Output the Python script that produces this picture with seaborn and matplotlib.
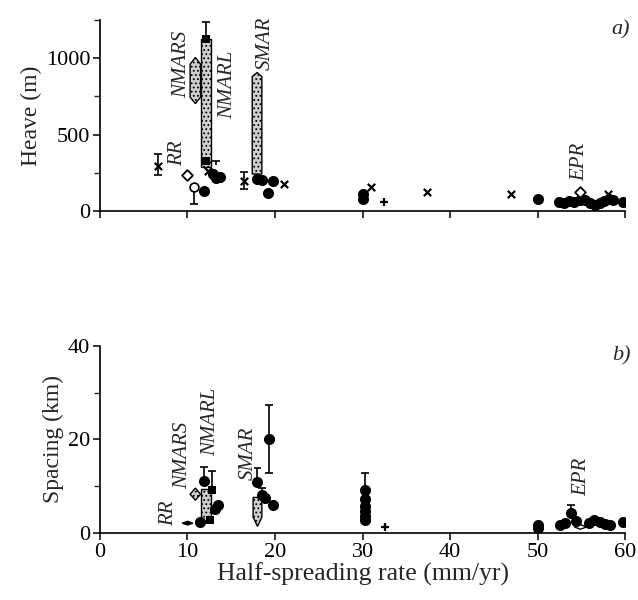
import numpy as np
import pandas as pd
import matplotlib
matplotlib.use("Agg")
import matplotlib.pyplot as plt
import seaborn as sns
from matplotlib.patches import Polygon

# ---------------- data ----------------
# Panel a: heave (m)
a_circle_x = [11.9, 12.9, 13.3, 13.7, 17.9, 18.5, 19.8, 19.2, 30.1, 30.1, 50.1,
              52.5, 53.0, 53.6, 54.2, 54.8, 55.4, 56.0, 56.6, 57.1, 57.6, 58.2, 58.6, 59.8]
a_circle_y = [134, 240, 215, 225, 208, 201, 195, 121, 80, 110, 80,
              60, 50, 65, 60, 70, 75, 55, 40, 50, 65, 80, 75, 60]
a_square_x = [12.1, 12.1]
a_square_y = [1128, 330]
a_cross_x = [6.6, 12.4, 16.5, 21.0, 31.0, 37.4, 47.0, 58.0]
a_cross_y = [295, 262, 195, 174, 154, 127, 114, 110]
a_plus_x = [32.5]
a_plus_y = [60]
a_diamond_x = [10.0, 54.9]
a_diamond_y = [235, 127]
a_open_x = [10.7]
a_open_y = [154]
# error bars: x, low end, high end, cap at low, cap at high
a_err_x = [6.6, 10.7, 12.1, 13.3, 16.5]
a_err_lo = [235, 49, 1128, 300, 141]
a_err_hi = [376, 154, 1235, 330, 255]
a_err_caplo = [True, True, False, False, True]
a_err_caphi = [True, False, True, True, True]
# range shapes: x centre, half width, body top, body bottom, tip top, tip bottom
a_shape_x = [10.9, 12.1, 17.95]
a_shape_hw = [0.6, 0.6, 0.55]
a_shape_top = [960, 1128, 880]
a_shape_bot = [745, 290, 242]
a_shape_tiptop = [1005, 1128, 906]
a_shape_tipbot = [703, 290, 242]
a_label_text = ["RR", "NMARS", "NMARL", "SMAR", "EPR"]
a_label_x = [8.9, 9.3, 14.6, 18.9, 54.8]
a_label_y = [375, 960, 825, 1100, 322]

# Panel b: spacing (km)
b_circle_x = [11.9, 11.4, 13.5, 13.1, 18.0, 18.5, 18.9, 19.8, 19.3,
              30.3, 30.3, 30.3, 30.3, 30.3, 30.3, 50.1, 50.1,
              52.6, 53.1, 53.8, 54.4, 55.9, 56.5, 57.1, 57.7, 58.3, 59.8]
b_circle_y = [11.1, 2.4, 6.0, 5.2, 10.9, 8.1, 7.5, 5.9, 20.1,
              9.2, 7.2, 5.8, 4.6, 3.6, 2.8, 1.8, 1.1,
              1.8, 2.2, 4.3, 2.6, 2.2, 2.8, 2.4, 1.9, 1.8, 2.3]
b_square_x = [12.8, 12.6]
b_square_y = [9.2, 2.8]
b_plus_x = [32.6]
b_plus_y = [1.3]
b_err_x = [11.9, 12.8, 18.0, 18.5, 19.3, 30.3, 53.8]
b_err_lo = [11.1, 9.2, 10.9, 8.1, 12.8, 9.2, 4.3]
b_err_hi = [14.1, 13.2, 13.9, 9.6, 27.4, 12.8, 5.9]
b_err_caplo = [False, False, False, False, True, False, False]
b_err_caphi = [True, True, True, True, True, True, True]
# shapes: RR (flat), NMARS (diamond), NMARL (bar), SMAR (pencil), EPR (open flat)
b_shape_x = [10.0, 10.9, 12.15, 18.0, 54.9]
b_shape_hw = [0.6, 0.6, 0.55, 0.5, 0.7]
b_shape_top = [2.1, 8.3, 9.5, 7.6, 1.3]
b_shape_bot = [2.1, 8.3, 2.4, 3.4, 1.3]
b_shape_tiptop = [2.5, 9.6, 9.5, 7.6, 1.8]
b_shape_tipbot = [1.7, 7.0, 2.4, 1.4, 0.8]
b_shape_fill = ["black", "#cfcfcf", "#cfcfcf", "#cfcfcf", "white"]
b_shape_hatch = [None, "....", "....", "....", None]
b_label_text = ["RR", "NMARS", "NMARL", "SMAR", "EPR"]
b_label_x = [7.8, 9.5, 12.6, 16.9, 55.1]
b_label_y = [4.3, 16.5, 23.7, 17.1, 12.0]

# ---------------- style ----------------
sns.set_style("ticks")
plt.rcParams["font.family"] = ["Liberation Serif", "DejaVu Serif"]
plt.rcParams["hatch.linewidth"] = 0.8

fig = plt.figure(figsize=(6.38, 6.0), dpi=100)
ax1 = fig.add_axes([0.1567, 0.6483, 0.823, 0.3184])
ax2 = fig.add_axes([0.1567, 0.1117, 0.823, 0.3117])


def shape_poly(x, hw, top, bot, tiptop, tipbot):
    return [(x - hw, bot), (x - hw, top), (x, tiptop), (x + hw, top),
            (x + hw, bot), (x, tipbot)]


def draw_errs(ax, xs, lo, hi, clo, chi, cw):
    ax.vlines(xs, lo, hi, color="black", lw=1.2, zorder=3)
    for x, l, h, a, b in zip(xs, lo, hi, clo, chi):
        if a:
            ax.hlines(l, x - cw, x + cw, color="black", lw=1.2, zorder=3)
        if b:
            ax.hlines(h, x - cw, x + cw, color="black", lw=1.2, zorder=3)


def scatter(ax, xs, ys, marker, s, fc="black", lw=0, z=4):
    df = pd.DataFrame({"x": xs, "y": ys})
    sns.scatterplot(data=df, x="x", y="y", ax=ax, marker=marker, s=s,
                    color=fc, edgecolor="black", linewidth=lw, zorder=z, legend=False)


# ---- panel a ----
for x, hw, t, b, tt, tb in zip(a_shape_x, a_shape_hw, a_shape_top, a_shape_bot,
                               a_shape_tiptop, a_shape_tipbot):
    ax1.add_patch(Polygon(shape_poly(x, hw, t, b, tt, tb), closed=True,
                          facecolor="#cfcfcf", edgecolor="black", lw=1.0,
                          hatch="....", zorder=2))
draw_errs(ax1, a_err_x, a_err_lo, a_err_hi, a_err_caplo, a_err_caphi, 0.45)
scatter(ax1, a_circle_x, a_circle_y, "o", 64)
scatter(ax1, a_square_x, a_square_y, "s", 30)
scatter(ax1, a_cross_x, a_cross_y, "x", 28, lw=1.6)
scatter(ax1, a_plus_x, a_plus_y, "+", 28, lw=1.6)
scatter(ax1, a_diamond_x, a_diamond_y, "D", 30, fc="white", lw=1.3)
scatter(ax1, a_open_x, a_open_y, "o", 40, fc="white", lw=1.2)
for t, x, y in zip(a_label_text, a_label_x, a_label_y):
    ax1.text(x, y, t, rotation=90, style="italic", fontsize=15,
             ha="center", va="center", zorder=6)

ax1.set_xlim(0, 60)
ax1.set_ylim(0, 1250)
ax1.set_yticks([0, 500, 1000])
ax1.set_yticks([250, 750, 1250], minor=True)
ax1.set_xticks(range(0, 61, 10))
ax1.set_xticklabels([])
ax1.set_xlabel("")
ax1.set_ylabel("Heave (m)", fontsize=17, labelpad=3)
ax1.text(1.01, 1.0, "a)", transform=ax1.transAxes, style="italic", fontsize=16,
         ha="right", va="top")

# ---- panel b ----
for x, hw, t, b, tt, tb, fc, h in zip(b_shape_x, b_shape_hw, b_shape_top, b_shape_bot,
                                      b_shape_tiptop, b_shape_tipbot, b_shape_fill,
                                      b_shape_hatch):
    if t == b:
        verts = [(x - hw, t), (x, tt), (x + hw, t), (x, tb)]
    else:
        verts = shape_poly(x, hw, t, b, tt, tb)
    ax2.add_patch(Polygon(verts, closed=True, facecolor=fc, edgecolor="black",
                          lw=1.0, hatch=h, zorder=2))
draw_errs(ax2, b_err_x, b_err_lo, b_err_hi, b_err_caplo, b_err_caphi, 0.45)
scatter(ax2, b_circle_x, b_circle_y, "o", 64)
scatter(ax2, b_square_x, b_square_y, "s", 30)
scatter(ax2, b_plus_x, b_plus_y, "+", 28, lw=1.6)
for t, x, y in zip(b_label_text, b_label_x, b_label_y):
    ax2.text(x, y, t, rotation=90, style="italic", fontsize=15,
             ha="center", va="center", zorder=6)

ax2.set_xlim(0, 60)
ax2.set_ylim(0, 40)
ax2.set_yticks([0, 20, 40])
ax2.set_yticks([10, 30], minor=True)
ax2.set_xticks(range(0, 61, 10))
ax2.set_xlabel("Half-spreading rate (mm/yr)", fontsize=18.5, labelpad=1)
ax2.set_ylabel("Spacing (km)", fontsize=17, labelpad=3)
ax2.text(1.01, 1.0, "b)", transform=ax2.transAxes, style="italic", fontsize=16,
         ha="right", va="top")

for ax in (ax1, ax2):
    sns.despine(ax=ax)
    for sp in ("left", "bottom"):
        ax.spines[sp].set_linewidth(1.2)
        ax.spines[sp].set_color("black")
    ax.tick_params(which="major", direction="out", length=5, width=1.1,
                   labelsize=16, colors="black", pad=2)
    ax.tick_params(which="minor", axis="y", direction="out", length=4, width=1.0)

fig.savefig("out.png", dpi=100)
